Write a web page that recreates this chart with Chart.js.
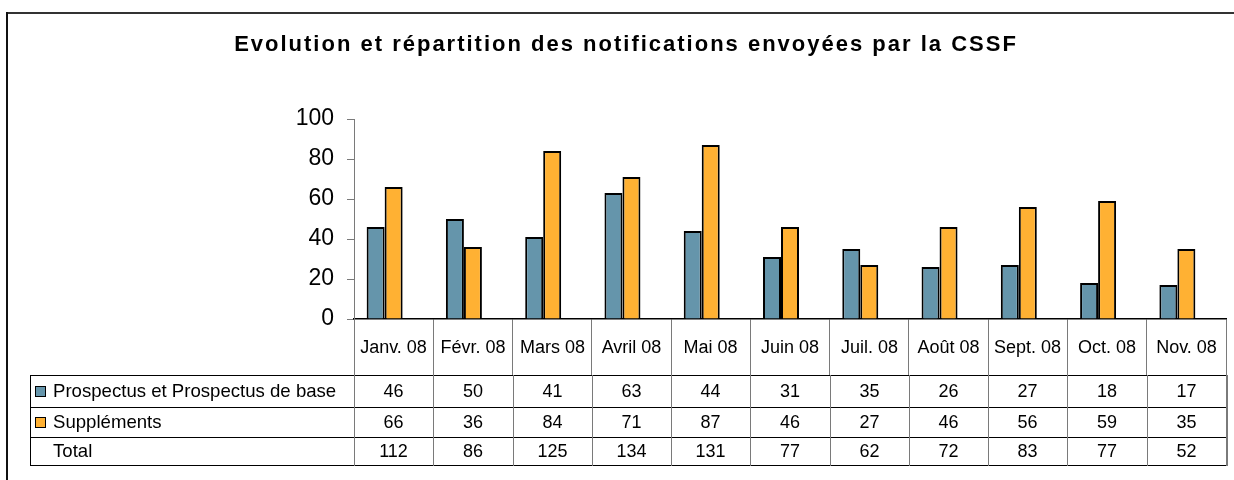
<!DOCTYPE html>
<html>
<head>
<meta charset="utf-8">
<script src="https://cdn.jsdelivr.net/npm/chart.js@4/dist/chart.umd.min.js"></script>
<style>
  html, body { margin: 0; padding: 0; background: #fff; }
  #wrap { position: relative; width: 1234px; height: 480px; overflow: hidden; font-family: 'Liberation Sans', Arial, sans-serif; }
  #frameTop { position: absolute; left: 7px; top: 12px; width: 1227px; height: 2px; background: #333; }
  #frameLeft { position: absolute; left: 6px; top: 12px; width: 2px; height: 468px; background: #111; }
  #title { position: absolute; left: 0; top: 33px; width: 1252px; text-align: center; font-weight: bold; font-size: 22px; line-height: 22px; letter-spacing: 2px; color: #000; }
  canvas { position: absolute; left: 0; top: 0; }
  .ln { position: absolute; }
  .cell { position: absolute; text-align: center; font-size: 18px; color: #000; white-space: nowrap; }
  .lab { position: absolute; font-size: 18.6px; color: #000; white-space: nowrap; }
  .box { position: absolute; width: 9px; height: 9px; border: 1px solid #000; }
</style>
</head>
<body>
<div id="wrap">
  <canvas id="c" width="1234" height="480"></canvas>
  <div id="frameTop"></div>
  <div id="frameLeft"></div>
  <div id="title">Evolution et répartition des notifications envoyées par la CSSF</div>
  <div id="table"></div>
</div>
<script>
const categories = ['Janv. 08', 'Févr. 08', 'Mars 08', 'Avril 08', 'Mai 08', 'Juin 08', 'Juil. 08', 'Août 08', 'Sept. 08', 'Oct. 08', 'Nov. 08'];
const prospectus = [46, 50, 41, 63, 44, 31, 35, 26, 27, 18, 17];
const supplements = [66, 36, 84, 71, 87, 46, 27, 46, 56, 59, 35];
const totals = [112, 86, 125, 134, 131, 77, 62, 72, 83, 77, 52];
const seriesNames = ['Prospectus et Prospectus de base', 'Suppléments', 'Total'];
const yTickValues = [0, 20, 40, 60, 80, 100];

const BLUE = '#6595AB';
const ORANGE = '#FFB133';
const FONT = "'Liberation Sans', Arial, sans-serif";

const chart = new Chart(document.getElementById('c'), {
  type: 'bar',
  data: {
    labels: categories,
    datasets: [
      { label: seriesNames[0], data: prospectus, backgroundColor: BLUE, borderColor: '#000', borderWidth: 2 },
      { label: seriesNames[1], data: supplements, backgroundColor: ORANGE, borderColor: '#000', borderWidth: 2 },
      { label: '', data: categories.map(() => null), backgroundColor: 'transparent', borderWidth: 0 }
    ]
  },
  options: {
    responsive: false,
    animation: false,
    events: [],
    layout: { padding: { left: 294, right: 8, top: 119, bottom: 105 } },
    datasets: { bar: { barPercentage: 1, categoryPercentage: 0.681 } },
    plugins: { legend: { display: false }, title: { display: false }, tooltip: { enabled: false } },
    scales: {
      x: {
        offset: true,
        ticks: { display: false },
        grid: { offset: true, drawOnChartArea: false, drawTicks: true, tickLength: 56, color: '#7a7a7a', lineWidth: 1 },
        border: { display: true, color: '#000', width: 1.5 },
        afterFit(s) { s.height = 56; }
      },
      y: {
        min: 0, max: 100,
        afterBuildTicks(s) { s.ticks = yTickValues.map(v => ({ value: v })); },
        ticks: { color: '#000', padding: 13, font: { family: FONT, size: 23 } },
        grid: { drawOnChartArea: false, drawTicks: true, tickLength: 7, color: '#7a7a7a', lineWidth: 1 },
        border: { display: true, color: '#7a7a7a', width: 1 },
        afterFit(s) { s.width = 60; }
      }
    }
  }
});

// Build the data table under the x-axis, aligned to the chart's category scale
(function buildTable() {
  const xs = chart.scales.x;
  const area = chart.chartArea;
  const tbl = document.getElementById('table');
  const rowsY = [375, 407, 437, 465];
  const left = 30;
  const bounds = [];
  for (let i = 0; i <= categories.length; i++) bounds.push(Math.round(xs.getPixelForValue(i - 0.5)));
  const right = bounds[bounds.length - 1];
  const headTop = Math.round(area.bottom);

  function line(x, y, w, h, color) {
    const d = document.createElement('div');
    d.className = 'ln';
    d.style.left = x + 'px'; d.style.top = y + 'px';
    d.style.width = w + 'px'; d.style.height = h + 'px';
    d.style.background = color;
    tbl.appendChild(d);
  }
  rowsY.forEach(y => line(left, y, right - left + 1, 1, '#000'));
  line(left, rowsY[0], 1, rowsY[3] - rowsY[0] + 1, '#000');
  line(Math.round(area.left), rowsY[0], 1, rowsY[3] - rowsY[0], '#7a7a7a');
  bounds.forEach((b, i) => line(b, rowsY[0], (i === bounds.length - 1) ? 2 : 1, rowsY[3] - rowsY[0] + 1, '#7a7a7a'));

  categories.forEach((c, i) => {
    const d = document.createElement('div');
    d.className = 'cell';
    d.style.left = bounds[i] + 'px';
    d.style.width = (bounds[i + 1] - bounds[i]) + 'px';
    d.style.top = headTop + 'px';
    d.style.height = (rowsY[0] - headTop) + 'px';
    d.style.lineHeight = (rowsY[0] - headTop) + 'px';
    d.textContent = c;
    tbl.appendChild(d);
  });

  const rows = [prospectus, supplements, totals];
  const colors = [BLUE, ORANGE, null];
  rows.forEach((vals, r) => {
    const top = rowsY[r], h = rowsY[r + 1] - rowsY[r];
    if (colors[r]) {
      const b = document.createElement('div');
      b.className = 'box';
      b.style.left = '35px';
      b.style.top = (top + Math.round(h / 2) - 5) + 'px';
      b.style.background = colors[r];
      tbl.appendChild(b);
    }
    const l = document.createElement('div');
    l.className = 'lab';
    l.style.left = '53px';
    l.style.top = top + 'px';
    l.style.height = h + 'px';
    l.style.lineHeight = h + 'px';
    l.textContent = seriesNames[r];
    tbl.appendChild(l);
    vals.forEach((v, i) => {
      const d = document.createElement('div');
      d.className = 'cell';
      d.style.left = bounds[i] + 'px';
      d.style.width = (bounds[i + 1] - bounds[i]) + 'px';
      d.style.top = top + 'px';
      d.style.height = h + 'px';
      d.style.lineHeight = h + 'px';
      d.textContent = String(v);
      tbl.appendChild(d);
    });
  });
})();
</script>
</body>
</html>
